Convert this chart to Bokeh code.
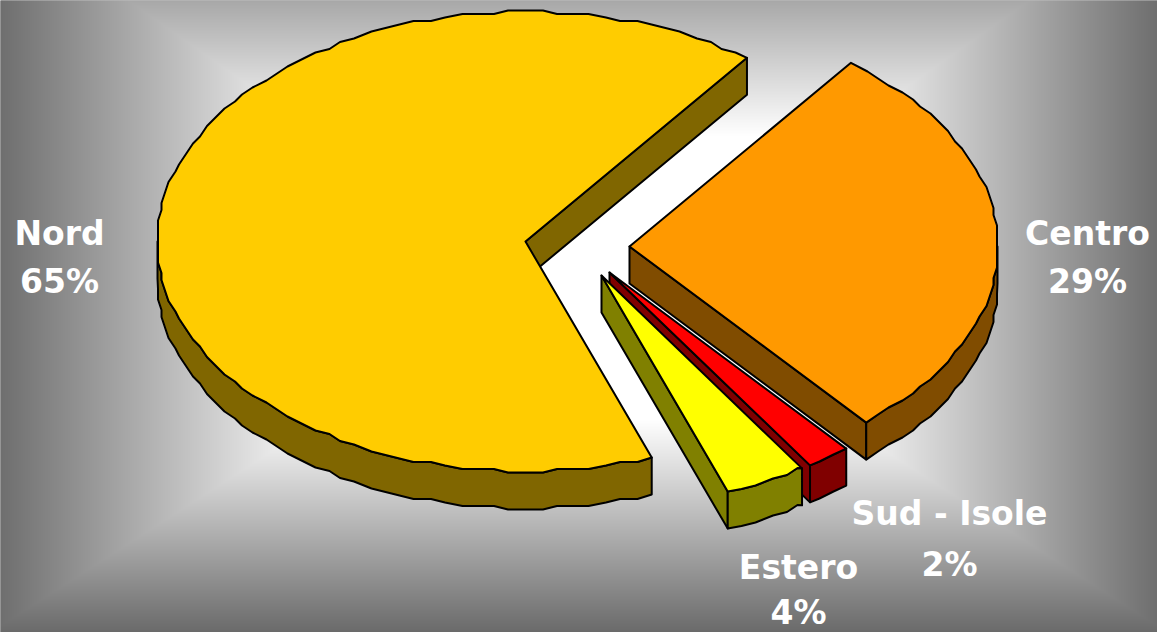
import numpy as np
from bokeh.plotting import figure
from bokeh.embed import file_html
from bokeh.resources import INLINE
from bokeh.core.properties import value

# Chart data
categories = ["Nord", "Centro", "Sud - Isole", "Estero"]
percent_labels = ["65%", "29%", "2%", "4%"]
shares = [65.85, 28.6, 1.95, 3.6]          # drawn share of each slice
top_colors = ["#FFCC00", "#FF9900", "#FF0000", "#FFFF00"]
side_colors = ["#806600", "#804C00", "#800000", "#808000"]

# Layout (window pixels, y measured from the top of the window)
W, H = 1157, 632
apex = {"Nord": (525, 241), "Centro": (629, 246), "Sud - Isole": (609, 272), "Estero": (601, 275)}
label_pos = {"Nord": (59, 233, 281), "Centro": (1087, 233, 281),
             "Sud - Isole": (949, 513, 564), "Estero": (798, 567, 612)}
RX, RY, DEPTH = 368, 230, 37
START_ANGLE = 53.0
GRID = 3.5
STEP = 2.5

# Slice start/end angles (clockwise, Centro first, from START_ANGLE)
order = ["Centro", "Sud - Isole", "Estero", "Nord"]
angles = {}
a = START_ANGLE
for name in order:
    s = shares[categories.index(name)]
    angles[name] = (a, a - s * 3.6)
    a -= s * 3.6


def arc(cx, cy, a0, a1):
    k0 = np.floor(a0 / STEP)
    k1 = np.ceil(a1 / STEP)
    mids = STEP * np.arange(k0, k1 - 0.5, -1)
    mids = mids[(mids < a0 - 0.5) & (mids > a1 + 0.5)]
    th = np.radians(np.concatenate([[a0], mids, [a1]]))
    xs = RX * np.cos(th)
    ys = RY * np.sin(th)
    xs[1:-1] = np.round(xs[1:-1] / GRID) * GRID
    ys[1:-1] = np.round(ys[1:-1] / GRID) * GRID
    return cx + xs, cy - ys


def Y(py):
    return H - np.asarray(py, dtype=float)


p = figure(width=W, height=H, x_range=(0, W), y_range=(0, H),
           output_backend="svg", toolbar_location=None,
           min_border=0, outline_line_color=None,
           background_fill_color="#808080", border_fill_color="#808080")
p.axis.visible = False
p.grid.visible = False

# Background: rectangular gradient with a white plateau (a little larger than the frame)
PAD = 3
px = np.arange(-PAD, W + PAD) + 0.5
py = H + PAD - (np.arange(H + 2 * PAD) + 0.5)
gx = np.where(px < 320, 255 - 0.45 * (320 - px), np.where(px > 837, 255 - 0.45 * (px - 837), 255.0))
gy = np.where(py < 135, 255 - 0.64 * (135 - py), np.where(py > 420, 255 - 0.70 * (py - 420), 255.0))
g = np.minimum.outer(gy, gx).clip(0, 255).astype(np.uint32)
img = (255 << 24) | (g << 16) | (g << 8) | g
p.image_rgba(image=[img], x=-PAD, y=-PAD, dw=W + 2 * PAD, dh=H + 2 * PAD)

draw_order = ["Nord", "Centro", "Sud - Isole", "Estero"]
LW = 2
for name in draw_order:
    i = categories.index(name)
    cx, cy = apex[name]
    a0, a1 = angles[name]
    top = top_colors[i]
    side = side_colors[i]

    # cut face at the clockwise end of the slice
    ex, ey = cx + RX * np.cos(np.radians(a1)), cy - RY * np.sin(np.radians(a1))
    p.patch([cx, ex, ex, cx], Y([cy, ey, ey + DEPTH, cy + DEPTH]),
            fill_color=side, line_color="black", line_width=LW, line_join="round")

    # front rim: the part of the arc lying in the lower half
    for k in range(-1, 1):
        lo = -180 + 360 * k
        hi = 0 + 360 * k
        b0 = min(a0, hi)
        b1 = max(a1, lo)
        if b0 > b1:
            ax, ay = arc(cx, cy, b0, b1)
            p.patch(np.concatenate([ax, ax[::-1]]), Y(np.concatenate([ay, (ay + DEPTH)[::-1]])),
                    fill_color=side, line_color="black", line_width=LW, line_join="round")

    # top surface
    ax, ay = arc(cx, cy, a0, a1)
    p.patch(np.concatenate([[cx], ax]), Y(np.concatenate([[cy], ay])),
            fill_color=top, line_color="black", line_width=LW, line_join="round")

# Labels
for name in categories:
    i = categories.index(name)
    lx, ly1, ly2 = label_pos[name]
    p.text(x=[lx, lx], y=Y([ly1, ly2]), text=[name, percent_labels[i]],
           text_color="white", text_font=value("DejaVu Sans"), text_font_style="bold",
           text_font_size="33px", text_align="center", text_baseline="middle")

open("out.html", "w").write(file_html(p, INLINE))
